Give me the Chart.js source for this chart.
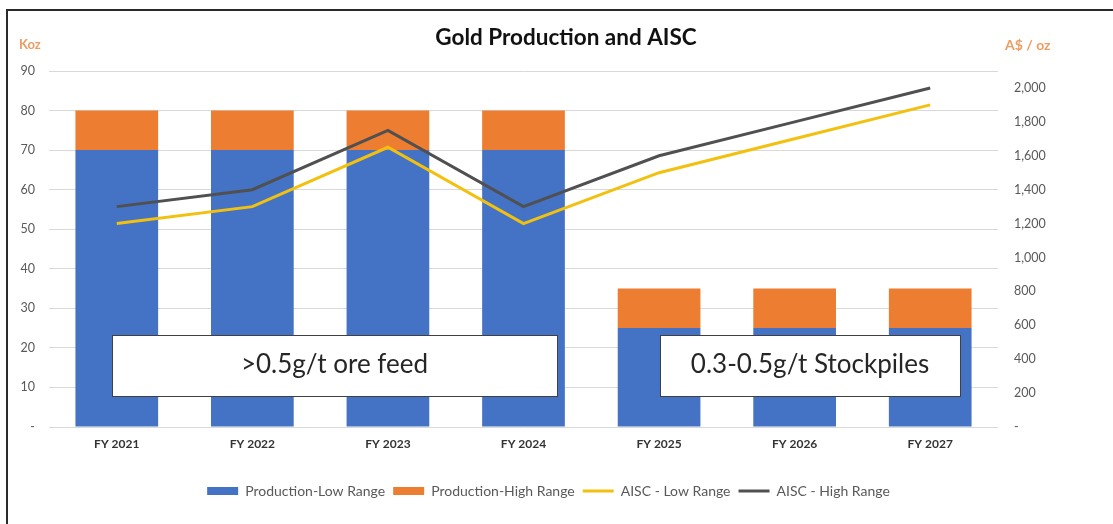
<!DOCTYPE html>
<html>
<head>
<meta charset="utf-8">
<script src="https://cdn.jsdelivr.net/npm/chart.js@4"></script>
<style>
    html, body { margin: 0; padding: 0; background: #fff; }
    #wrap { position: relative; width: 1113px; height: 524px; }
</style>
</head>
<body>
<div id="wrap"><canvas id="goldChart" width="1113" height="524"></canvas></div>
<script>
const categories = ['FY 2021', 'FY 2022', 'FY 2023', 'FY 2024', 'FY 2025', 'FY 2026', 'FY 2027'];
const productionLow = [70, 70, 70, 70, 25, 25, 25];
const productionHigh = [10, 10, 10, 10, 10, 10, 10];
const aiscLow = [1200, 1300, 1650, 1200, 1500, 1700, 1900];
const aiscHigh = [1300, 1400, 1750, 1300, 1600, 1800, 2000];
const notes = ['>0.5g/t ore feed', '0.3-0.5g/t Stockpiles'];
const chartTitle = 'Gold Production and AISC';

const FONT = "Lato, 'Liberation Sans', sans-serif";
const tickColor = '#595959';
const unitColor = '#EC9D62';

// frame, title, unit labels and the two text boxes
const extrasPlugin = {
    id: 'extras',
    beforeDraw(chart) {
        const ctx = chart.ctx;
        ctx.save();
        ctx.strokeStyle = '#2b2b2b';
        ctx.lineWidth = 2;
        ctx.beginPath();
        ctx.moveTo(7, 524);
        ctx.lineTo(7, 10);
        ctx.lineTo(1113, 10);
        ctx.stroke();
        ctx.restore();
    },
    afterDraw(chart) {
        const ctx = chart.ctx;
        const area = chart.chartArea;
        ctx.save();
        ctx.textBaseline = 'middle';
        ctx.textAlign = 'center';
        ctx.fillStyle = '#111';
        ctx.font = 'bold 22.5px ' + FONT;
        ctx.fillText(chartTitle, 566, 38);

        ctx.fillStyle = unitColor;
        ctx.textAlign = 'left';
        ctx.font = 'bold 13px ' + FONT;
        ctx.fillText('Koz', 19, 45);
        ctx.font = 'bold 14px ' + FONT;
        ctx.fillText('A$ / oz', 1005, 45);

        const boxes = [
            { x: 112, w: 445, text: notes[0] },
            { x: 660, w: 300, text: notes[1] },
        ];
        boxes.forEach((b) => {
            const top = area.bottom - 92;
            ctx.fillStyle = '#ffffff';
            ctx.fillRect(b.x, top, b.w, 61);
            ctx.strokeStyle = '#404040';
            ctx.lineWidth = 1;
            ctx.strokeRect(b.x + 0.5, top + 0.5, b.w, 61);
            ctx.fillStyle = '#262626';
            ctx.font = '26px ' + FONT;
            ctx.textAlign = 'center';
            ctx.fillText(b.text, b.x + b.w / 2, top + 30);
        });
        ctx.restore();
    }
};

const ctx = document.getElementById('goldChart').getContext('2d');
const goldChart = new Chart(ctx, {
    type: 'bar',
    data: {
        labels: categories,
        datasets: [
            {
                label: 'Production-Low Range',
                data: productionLow,
                backgroundColor: '#4472C4',
                borderWidth: 0,
                pointStyle: 'rect',
                yAxisID: 'y',
                order: 2,
            },
            {
                label: 'Production-High Range',
                data: productionHigh,
                backgroundColor: '#ED7D31',
                borderWidth: 0,
                pointStyle: 'rect',
                yAxisID: 'y',
                order: 2,
            },
            {
                type: 'line',
                label: 'AISC - Low Range',
                data: aiscLow,
                borderColor: '#F2C10F',
                backgroundColor: '#F2C10F',
                borderWidth: 3,
                pointRadius: 0,
                pointStyle: 'line',
                tension: 0,
                yAxisID: 'y1',
                order: 1,
            },
            {
                type: 'line',
                label: 'AISC - High Range',
                data: aiscHigh,
                borderColor: '#505050',
                backgroundColor: '#505050',
                borderWidth: 3,
                pointRadius: 0,
                pointStyle: 'line',
                tension: 0,
                yAxisID: 'y1',
                order: 1,
            },
        ]
    },
    options: {
        responsive: false,
        animation: false,
        layout: { padding: { top: 71, bottom: 16, left: 0, right: 16 } },
        datasets: {
            bar: { barPercentage: 0.61, categoryPercentage: 1 }
        },
        plugins: {
            title: { display: false },
            legend: {
                position: 'bottom',
                labels: {
                    usePointStyle: true,
                    pointStyleWidth: 31,
                    boxHeight: 8,
                    color: tickColor,
                    font: { family: FONT, size: 14 },
                    padding: 8,
                    sort: (a, b) => a.datasetIndex - b.datasetIndex,
                },
            },
            tooltip: { enabled: false },
        },
        scales: {
            x: {
                stacked: true,
                grid: { display: false },
                border: { display: false },
                ticks: {
                    color: '#333',
                    font: { family: FONT, size: 12, weight: 'bold' },
                    padding: 2,
                },
                afterFit: (s) => { s.height = 49; },
            },
            y: {
                stacked: true,
                position: 'left',
                min: 0,
                max: 90,
                ticks: {
                    stepSize: 10,
                    color: tickColor,
                    font: { family: FONT, size: 12.5 },
                    padding: 14,
                    callback: (v) => (v === 0 ? '-' : v),
                },
                grid: { color: '#d9d9d9', lineWidth: 1, drawTicks: false },
                border: { display: false },
                afterFit: (s) => { s.width = 49; },
            },
            y1: {
                position: 'right',
                min: 0,
                max: 2100,
                ticks: {
                    stepSize: 200,
                    color: tickColor,
                    font: { family: FONT, size: 12.5 },
                    padding: 8,
                    callback: (v) => (v === 0 ? '-' : v.toLocaleString('en-US')),
                },
                afterBuildTicks: (s) => { s.ticks = s.ticks.filter((t) => t.value <= 2000); },
                grid: { display: false },
                border: { display: false },
                afterFit: (s) => { s.width = 99; },
            },
        }
    },
    plugins: [extrasPlugin]
});
</script>
</body>
</html>
